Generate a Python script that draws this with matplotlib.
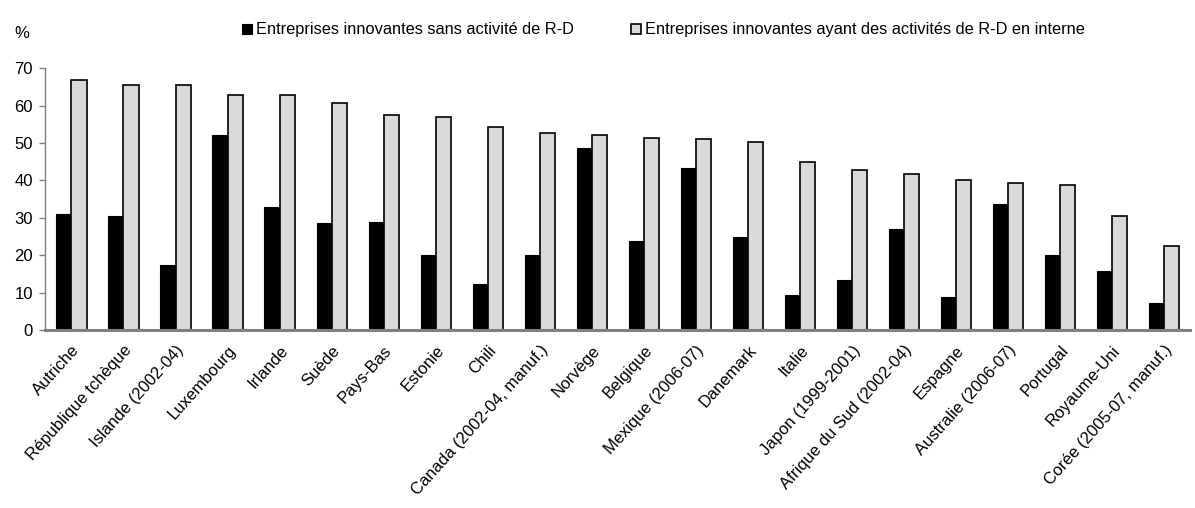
import matplotlib
matplotlib.use("Agg")
import matplotlib.pyplot as plt
import numpy as np
from matplotlib.patches import Patch

categories = ["Autriche", "République tchèque", "Islande (2002-04)", "Luxembourg", "Irlande",
              "Suède", "Pays-Bas", "Estonie", "Chili", "Canada (2002-04, manuf.)", "Norvège",
              "Belgique", "Mexique (2006-07)", "Danemark", "Italie", "Japon (1999-2001)",
              "Afrique du Sud (2002-04)", "Espagne", "Australie (2006-07)", "Portugal",
              "Royaume-Uni", "Corée (2005-07, manuf.)"]
sans_rd = [30.9, 30.5, 17.4, 52.0, 32.9, 28.5, 28.9, 20.1, 12.3, 20.1, 48.7,
           23.7, 43.2, 24.9, 9.5, 13.5, 27.0, 8.8, 33.6, 20.2, 15.9, 7.2]
avec_rd = [66.9, 65.4, 65.4, 62.7, 62.7, 60.6, 57.4, 57.0, 54.2, 52.6, 52.1,
           51.4, 51.0, 50.3, 45.0, 42.7, 41.6, 40.0, 39.2, 38.7, 30.5, 22.5]
series_labels = ["Entreprises innovantes sans activité de R-D",
                 "Entreprises innovantes ayant des activités de R-D en interne"]
yticks = [0, 10, 20, 30, 40, 50, 60, 70]

plt.rcParams['font.family'] = ['Liberation Sans', 'DejaVu Sans']

fig = plt.figure(figsize=(11.95, 5.08), dpi=100)
ax = fig.add_axes([0.038, 0.350, 0.958, 0.516])

x = np.arange(len(categories))
w = 0.29
ax.bar(x - w / 2, sans_rd, width=w, color='black', edgecolor='black', linewidth=0.8, zorder=2)
ax.bar(x + w / 2, avec_rd, width=w, color='#d9d9d9', edgecolor='black', linewidth=1.2, zorder=2)

ax.set_xlim(-0.5, len(categories) - 0.5)
ax.set_ylim(0, 70)
ax.set_yticks(yticks)
ax.tick_params(axis='y', labelsize=12, length=4, color='#808080', width=1, direction='out', pad=5)
ax.tick_params(axis='x', length=0, pad=9)
ax.set_xticks(x)
ax.set_xticklabels(categories, rotation=48, ha='right', va='top', rotation_mode='anchor', fontsize=12)

for s in ['top', 'right']:
    ax.spines[s].set_visible(False)
ax.spines['left'].set_color('#808080')
ax.spines['left'].set_linewidth(1)
ax.spines['bottom'].set_color('#808080')
ax.spines['bottom'].set_linewidth(2.2)

fig.text(0.012, 0.935, "%", fontsize=12, ha='left', va='center')

handles = [Patch(facecolor='black', edgecolor='black', linewidth=0.8),
           Patch(facecolor='#d9d9d9', edgecolor='black', linewidth=1.2)]
fig.legend(handles, series_labels, loc='center', bbox_to_anchor=(0.555, 0.941), ncol=2,
           frameon=False, fontsize=11.75, handlelength=0.6, handleheight=0.6, handletextpad=0.25,
           columnspacing=3.5)

fig.savefig("out.png", dpi=100)
